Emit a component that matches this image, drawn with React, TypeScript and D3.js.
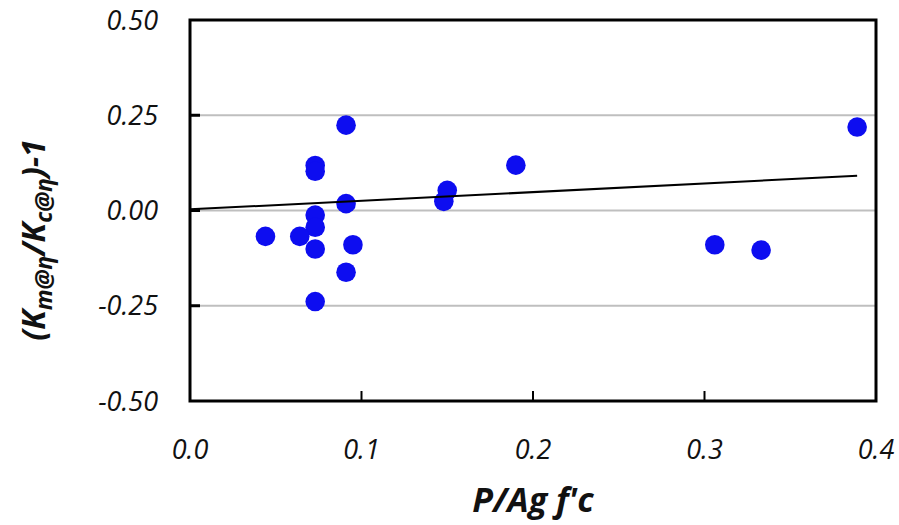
import React from 'react'
import * as d3 from 'd3'

// axial load ratio vs stiffness ratio error
const loadRatio = [0.091, 0.073, 0.073, 0.091, 0.073, 0.073, 0.064, 0.044, 0.073, 0.095, 0.091, 0.073, 0.148, 0.150, 0.190, 0.306, 0.333, 0.389]
const stiffErr = [0.224, 0.118, 0.103, 0.018, -0.012, -0.044, -0.068, -0.068, -0.101, -0.090, -0.162, -0.239, 0.024, 0.053, 0.119, -0.090, -0.104, 0.219]

// linear trend line endpoints
const trendX = [0, 0.389]
const trendY = [0.003, 0.091]

const xTicks = [0, 0.1, 0.2, 0.3, 0.4]
const yTicks = [-0.5, -0.25, 0, 0.25, 0.5]

const W = 899
const H = 525
const left = 190
const right = 876
const top = 20
const bottom = 401

const x = d3.scaleLinear().domain([0, 0.4]).range([left, right])
const y = d3.scaleLinear().domain([-0.5, 0.5]).range([bottom, top])

const font = '"Open Sans", sans-serif'

const App = () => {
  const line = d3
    .line<number>()
    .x((d) => x(d))
    .y((d, i) => y(trendY[i]))

  return (
    <svg width={W} height={H} style={{ position: 'absolute', left: 0, top: 0 }} fontFamily={font}>
      <rect width={W} height={H} fill="white" />
      {/* gridlines */}
      {yTicks.filter((t) => t > -0.5 && t < 0.5).map((t) => (
        <line key={t} x1={left} x2={right} y1={y(t)} y2={y(t)} stroke="#bfbfbf" strokeWidth={2} />
      ))}
      {/* tick marks */}
      {yTicks.filter((t) => t > -0.5 && t < 0.5).map((t) => (
        <line key={'yt' + t} x1={left} x2={left + 10} y1={y(t)} y2={y(t)} stroke="black" strokeWidth={3} />
      ))}
      {xTicks.filter((t) => t > 0 && t < 0.4).map((t) => (
        <line key={'xt' + t} x1={x(t)} x2={x(t)} y1={bottom} y2={bottom - 10} stroke="black" strokeWidth={2} />
      ))}
      <rect x={left} y={top} width={right - left} height={bottom - top} fill="none" stroke="black" strokeWidth={3} />
      {/* points */}
      {loadRatio.map((d, i) => (
        <circle key={i} cx={x(d)} cy={y(stiffErr[i])} r={9.8} fill="#0d0df0" />
      ))}
      <path d={line(trendX) || ''} fill="none" stroke="black" strokeWidth={2} />
      {/* tick labels */}
      {yTicks.map((t) => (
        <text key={'yl' + t} x={158} y={y(t)} dy="0.36em" textAnchor="end" fontSize={27} fontStyle="italic" fill="#111">
          {t.toFixed(2)}
        </text>
      ))}
      {xTicks.map((t) => (
        <text key={'xl' + t} x={x(t)} y={449} dy="0.36em" textAnchor="middle" fontSize={27} fontStyle="italic" fill="#111">
          {t.toFixed(1)}
        </text>
      ))}
      {/* axis titles */}
      <text x={533} y={512} textAnchor="middle" fontSize={34} fontWeight="bold" fontStyle="italic" fill="#111">
        P/Ag f'c
      </text>
      <text
        transform={`translate(45,240) rotate(-90)`}
        textAnchor="middle"
        fontSize={32}
        fontWeight="bold"
        fontStyle="italic"
        fill="#111"
      >
        (K<tspan fontSize={23} dy={7}>m@η</tspan>
        <tspan dy={-7}>/K</tspan>
        <tspan fontSize={23} dy={7}>c@η</tspan>
        <tspan dy={-7}>)-1</tspan>
      </text>
    </svg>
  )
}

export default App
